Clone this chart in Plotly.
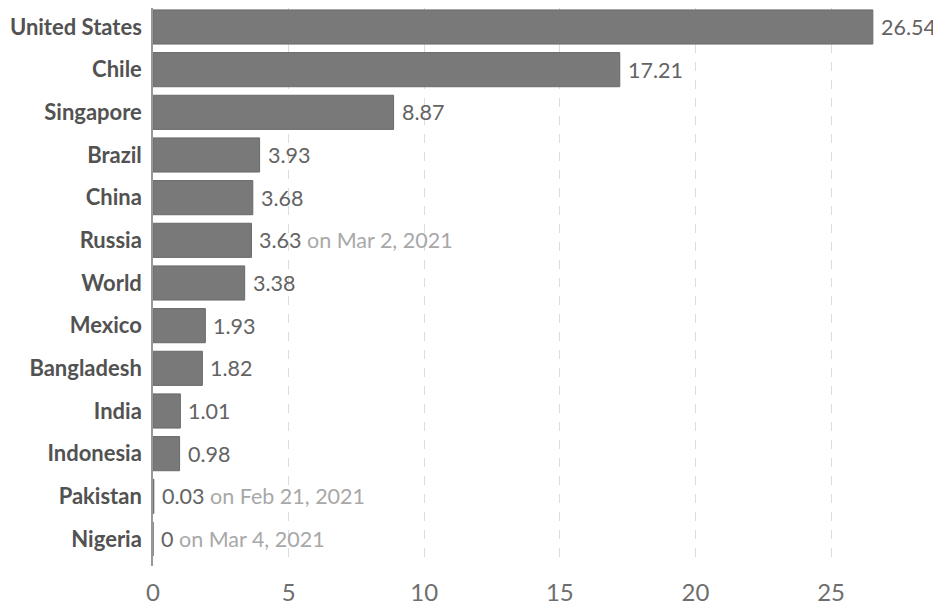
import plotly.graph_objects as go

countries = ["United States", "Chile", "Singapore", "Brazil", "China", "Russia", "World",
             "Mexico", "Bangladesh", "India", "Indonesia", "Pakistan", "Nigeria"]
values = [26.54, 17.21, 8.87, 3.93, 3.68, 3.63, 3.38, 1.93, 1.82, 1.01, 0.98, 0.03, 0]
value_labels = ["26.54", "17.21", "8.87", "3.93", "3.68", "3.63", "3.38", "1.93", "1.82",
                "1.01", "0.98", "0.03", "0"]
date_notes = ["", "", "", "", "", "on Mar 2, 2021", "", "", "", "", "", "on Feb 21, 2021", "on Mar 4, 2021"]
x_ticks = [0, 5, 10, 15, 20, 25]

fig = go.Figure()
fig.add_trace(go.Bar(
    y=countries, x=values, orientation="h", width=0.8,
    marker=dict(color="#797979", line=dict(color="#6a6a6a", width=1)),
    hoverinfo="x+y",
))

for c, v, lab, note in zip(countries, values, value_labels, date_notes):
    txt = lab
    if note:
        txt += " <span style='color:#a8a8a8'>" + note + "</span>"
    fig.add_annotation(x=v, y=c, text=txt, showarrow=False, xanchor="left", yanchor="middle",
                       xshift=6, font=dict(family="Lato", size=21.5, color="#636363"))

# the page body adds an 8px offset, so the figure is sized 933x600
fig.update_layout(
    width=933, height=600,
    margin=dict(l=145, r=15, t=0, b=42, autoexpand=False),
    plot_bgcolor="white", paper_bgcolor="white",
    showlegend=False, bargap=0.2,
    font=dict(family="Lato"),
)
fig.update_xaxes(range=[0, 28.5], tickvals=x_ticks, showgrid=True, gridcolor="#dddddd",
                 griddash="dash", gridwidth=1, zeroline=False, automargin=False,
                 tickfont=dict(family="Lato", size=24, color="#6e6e6e"),
                 ticks="outside", ticklen=5, tickcolor="rgba(0,0,0,0)")
fig.update_yaxes(autorange=False, range=[12.633, -0.445], showgrid=False, zeroline=False,
                 showline=True, linecolor="#999999", linewidth=1.5, automargin=False,
                 tickfont=dict(family="Lato", size=22, color="#525252", weight="bold"),
                 ticks="outside", ticklen=5, tickcolor="rgba(0,0,0,0)")

fig.write_html("out.html")
